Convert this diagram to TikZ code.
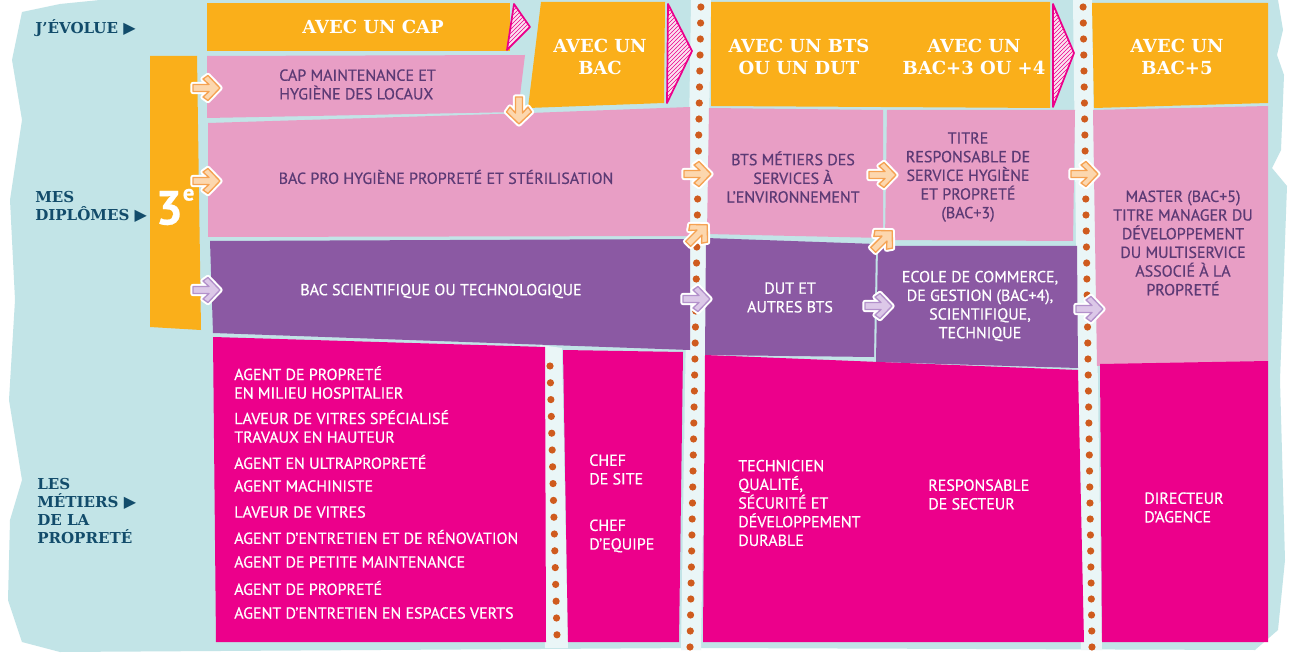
\documentclass[tikz,border=0pt]{standalone}
\usepackage{fontspec}
\setmainfont{PT Sans}
\newfontfamily\bodyf[FakeBold=0.5]{PT Sans}
\newfontfamily\slabf{DejaVu Serif}
\newfontfamily\symf{DejaVu Sans}
\usetikzlibrary{patterns}
\definecolor{bgc}{HTML}{C2E4E7}
\definecolor{stripc}{HTML}{EAF6F7}
\definecolor{orc}{HTML}{FAAF1A}
\definecolor{pkc}{HTML}{E89EC5}
\definecolor{puc}{HTML}{8B59A3}
\definecolor{mgc}{HTML}{EC008B}
\definecolor{dkc}{HTML}{5C3A75}
\definecolor{navyc}{HTML}{124C6B}
\definecolor{dotc}{HTML}{CF5B1E}
\definecolor{arrO}{HTML}{F5A252}
\definecolor{arrOf}{HTML}{FCD7AE}
\definecolor{arrL}{HTML}{B391CB}
\definecolor{arrLf}{HTML}{DCC8E8}
\definecolor{trif}{HTML}{FBE3F0}
\newcommand\tri{{\mdseries\symf\fontsize{12}{12}\selectfont ▶}}
\begin{document}
\begin{tikzpicture}[x=0.75pt,y=-0.75pt,
  dk/.style={font=\bodyf\fontsize{12}{14}\selectfont, text=dkc, align=center, inner sep=0pt},
  wt/.style={font=\bodyf\fontsize{12}{14}\selectfont, text=white, align=center, inner sep=0pt},
  wl/.style={font=\bodyf\fontsize{12}{14}\selectfont, text=white, align=left, inner sep=0pt, anchor=west},
  hd/.style={font=\slabf\bfseries\fontsize{13.5}{16}\selectfont, text=white, align=center, inner sep=0pt},
  lbl/.style={font=\slabf\bfseries\fontsize{11.3}{13.3}\selectfont, text=navyc, align=left, inner sep=0pt, anchor=west},
  tri/.style={preaction={fill=trif}, pattern=north east lines, pattern color=mgc, draw=mgc, line width=1.3pt, line join=round},
  pics/arw/.style n args={2}{code={
    \draw[white,line width=4pt,line join=round] (-14,-3.5) -- (2,-3.5) -- (-4,-9) -- (1,-12.5) -- (13,0) -- (1,12.5) -- (-4,9) -- (2,3.5) -- (-14,3.5) -- cycle;
    \draw[#1,fill=#2,line width=1pt,line join=round] (-14,-3.5) -- (2,-3.5) -- (-4,-9) -- (1,-12.5) -- (13,0) -- (1,12.5) -- (-4,9) -- (2,3.5) -- (-14,3.5) -- cycle;
  }}
]
\useasboundingbox (0,0) rectangle (1293,656);
\fill[white] (0,0) rectangle (1293,656);
% torn paper background
\fill[bgc] (22,12) -- (60,4) -- (100,0) -- (1278,0) -- (1283,30) -- (1277,55) -- (1284,75) -- (1281,150) -- (1272,168) -- (1287,186) -- (1280,380) -- (1285,560) -- (1278,630) -- (1255,650) -- (700,648) -- (60,652) -- (22,642) -- (8,600) -- (10,520) -- (22,480) -- (9,400) -- (15,300) -- (10,200) -- (22,120) -- (12,60) -- cycle;
% light strips
\fill[stripc] (691,0) -- (711,0) -- (701,650) -- (681,650) -- cycle;
\fill[stripc] (1073,0) -- (1092,0) -- (1102,650) -- (1081,650) -- cycle;
\fill[stripc] (540,345) -- (562,348) -- (568,648) -- (545,648) -- cycle;
% header row
\fill[orc] (207,3) -- (510,3) -- (510,51) -- (207,51) -- cycle;
\fill[orc] (541,2) -- (665,2) -- (664,103) -- (528,108) -- cycle;
\fill[orc] (711,2) -- (1050,2) -- (1050,108) -- (711,106) -- cycle;
\fill[orc] (1092,3) -- (1268,3) -- (1268,103) -- (1094,108) -- cycle;
\draw[tri] (514,4) -- (530,27) -- (507,50) -- cycle;
\draw[tri] (668,4) -- (692,51) -- (667,103) -- cycle;
\draw[tri] (1053,4) -- (1074,53) -- (1053,107) -- cycle;
% 3e bar
\fill[orc] (150,56) -- (197,56) -- (201,330) -- (150,327) -- cycle;
% diplomas
\fill[pkc] (207,56) -- (525,55) -- (518,112) -- (207,118) -- cycle;
\fill[pkc] (208,123) -- (530,113) -- (690,107) -- (690,236) -- (208,237) -- cycle;
\fill[puc] (210,241) -- (690,239) -- (690,350) -- (213,333) -- cycle;
\fill[pkc] (709,108) -- (883,110) -- (883,238) -- (707,234) -- cycle;
\fill[puc] (706,238) -- (876,244) -- (874,357) -- (705,355) -- cycle;
\fill[pkc] (887,110) -- (1075,110) -- (1073,241) -- (885,240) -- cycle;
\fill[puc] (878,246) -- (1077,246) -- (1078,368) -- (876,362) -- cycle;
\fill[pkc] (1093,110) -- (1268,106) -- (1268,361) -- (1097,366) -- cycle;
% jobs
\fill[mgc] (213,337) -- (545,347) -- (546,642) -- (216,642) -- cycle;
\fill[mgc] (563,350) -- (683,352) -- (679,642) -- (568,642) -- cycle;
\fill[mgc] (705,355) -- (1078,370) -- (1084,642) -- (703,642) -- cycle;
\fill[mgc] (1100,364) -- (1268,361) -- (1268,642) -- (1102,642) -- cycle;
% dotted lines
\foreach \t in {0,...,40} {
  \pgfmathsetmacro\yy{7+16*\t}
  \pgfmathsetmacro\xa{701-11*\yy/648}
  \pgfmathsetmacro\xb{1083+9*\yy/648}
  \fill[dotc] (\xa,\yy) circle (3.6);
  \fill[dotc] (\xb,\yy) circle (3.6);
}
\foreach \t in {0,...,16} {
  \pgfmathsetmacro\yy{366+16.8*\t}
  \pgfmathsetmacro\xc{550+7*(\yy-366)/270}
  \fill[dotc] (\xc,\yy) circle (3.6);
}
% left labels
\node[lbl] (jevolue) at (35,28) {J’ÉVOLUE \tri};
\node[lbl] (diplomes) at (35,207) {MES\\DIPLÔMES \tri};
\node[lbl] (metiers) at (37,511) {LES\\MÉTIERS \tri\\DE LA\\PROPRETÉ};
\node[font=\bodyf\bfseries\fontsize{36}{36}\selectfont, text=white, inner sep=0pt] (trois) at (175,207) {3\raisebox{0.5em}{\fontsize{17}{17}\selectfont e}};
% headers
\node[hd] (hcap) at (373,27) {AVEC UN CAP};
\node[hd] (hbac) at (600,57) {AVEC UN\\BAC};
\node[hd] (hbts) at (799,57) {AVEC UN BTS\\OU UN DUT};
\node[hd] (hbac3) at (974,57) {AVEC UN\\BAC+3 OU +4};
\node[hd] (hbac5) at (1177,57) {AVEC UN\\BAC+5};
% diploma texts
\node[dk, align=left, anchor=west] (cap) at (279,84.5) {CAP MAINTENANCE ET\\HYGIÈNE DES LOCAUX};
\node[dk] (bacpro) at (446,177) {BAC PRO HYGIÈNE PROPRETÉ ET STÉRILISATION};
\node[wt] (bacsci) at (441,291) {BAC SCIENTIFIQUE OU TECHNOLOGIQUE};
\node[dk] (bts) at (793,177) {BTS MÉTIERS DES\\SERVICES À\\L’ENVIRONNEMENT};
\node[wt] (dut) at (790,297.5) {DUT ET\\AUTRES BTS};
\node[dk] (titre) at (968,177) {TITRE\\RESPONSABLE DE\\SERVICE HYGIÈNE\\ET PROPRETÉ\\(BAC+3)};
\node[wt] (ecole) at (980,306) {ECOLE DE COMMERCE,\\DE GESTION (BAC+4),\\SCIENTIFIQUE,\\TECHNIQUE};
\node[dk] (master) at (1183,243) {MASTER (BAC+5)\\TITRE MANAGER DU\\DÉVELOPPEMENT\\DU MULTISERVICE\\ASSOCIÉ À LA\\PROPRETÉ};
% job texts
\node[wl] (j1) at (234,382.5) {AGENT DE PROPRETÉ\\EN MILIEU HOSPITALIER};
\node[wl] (j2) at (234,426.5) {LAVEUR DE VITRES SPÉCIALISÉ\\TRAVAUX EN HAUTEUR};
\node[wl] (j3) at (234,462) {AGENT EN ULTRAPROPRETÉ};
\node[wl] (j4) at (234,486) {AGENT MACHINISTE};
\node[wl] (j5) at (234,512) {LAVEUR DE VITRES};
\node[wl] (j6) at (234,537) {AGENT D’ENTRETIEN ET DE RÉNOVATION};
\node[wl] (j7) at (234,562) {AGENT DE PETITE MAINTENANCE};
\node[wl] (j8) at (234,588) {AGENT DE PROPRETÉ};
\node[wl] (j9) at (234,613) {AGENT D’ENTRETIEN EN ESPACES VERTS};
\node[wl] (chefsite) at (589,469.5) {CHEF\\DE SITE};
\node[wl] (chefeq) at (589,536) {CHEF\\D’EQUIPE};
\node[wl] (tech) at (738,503) {TECHNICIEN\\QUALITÉ,\\SÉCURITÉ ET\\DÉVELOPPEMENT\\DURABLE};
\node[wl] (resp) at (928,494.5) {RESPONSABLE\\DE SECTEUR};
\node[wl] (dir) at (1144,507.5) {DIRECTEUR\\D’AGENCE};
% arrows
\pic (a1) at (207,88) {arw={arrO}{arrOf}};
\pic[rotate=-90] (a2) at (519,111) {arw={arrO}{arrOf}};
\pic (a3) at (207,181) {arw={arrO}{arrOf}};
\pic (a4) at (207,290) {arw={arrL}{arrLf}};
\pic (a5) at (698,174) {arw={arrO}{arrOf}};
\pic[rotate=45] (a6) at (698,234) {arw={arrO}{arrOf}};
\pic (a7) at (697,299) {arw={arrL}{arrLf}};
\pic (a8) at (883,175) {arw={arrO}{arrOf}};
\pic[rotate=45] (a9) at (883,240) {arw={arrO}{arrOf}};
\pic (a10) at (879,306) {arw={arrL}{arrLf}};
\pic (a11) at (1085,174) {arw={arrO}{arrOf}};
\pic (a12) at (1090,309) {arw={arrL}{arrLf}};
\end{tikzpicture}
\end{document}
